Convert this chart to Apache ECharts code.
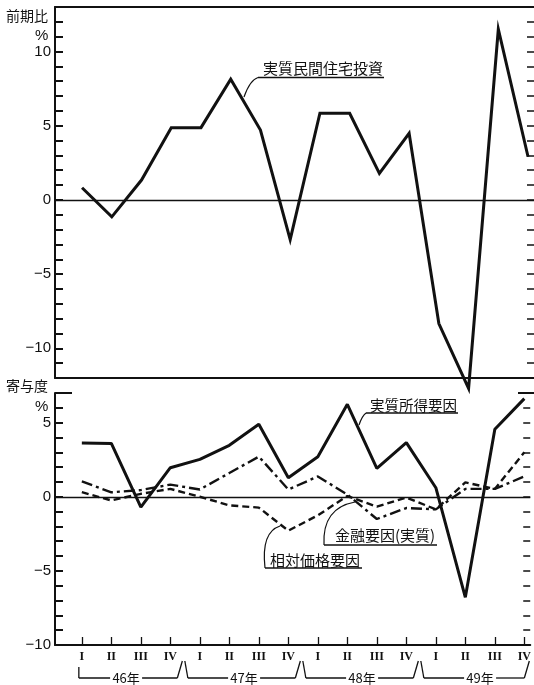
<!DOCTYPE html>
<html><head><meta charset="utf-8">
<script src="https://cdn.jsdelivr.net/npm/echarts@6/dist/echarts.min.js"></script>
<style>html,body{margin:0;padding:0;background:#fff}#c{width:534px;height:685px}</style>
</head><body><div id="c"></div>
<script>
// ---- data ----
const quarters = ['I','II','III','IV','I','II','III','IV','I','II','III','IV','I','II','III','IV'];
const years = ['46年','47年','48年','49年'];
const housingInvestment = [0.82,-1.14,1.34,4.87,4.87,8.13,4.71,-2.67,5.84,5.84,1.79,4.49,-8.33,-12.7,11.5,2.91];
const realIncomeFactor = [3.63,3.6,-0.7,1.96,2.52,3.47,4.89,1.28,2.7,6.24,1.91,3.65,0.61,-6.78,4.55,6.62];
const financeFactor = [1.04,0.3,0.45,0.82,0.49,1.6,2.71,0.49,1.37,0.15,-1.5,-0.76,-0.85,0.53,0.53,1.37];
const relativePriceFactor = [0.31,-0.25,0.2,0.53,0.0,-0.58,-0.73,-2.29,-1.25,0.05,-0.67,-0.05,-0.85,0.97,0.53,3.0];
const topLabelTicks = [10,5,0,-5,-10];
const bottomLabelTicks = [5,0,-5,-10];

const idx = quarters.map((_, i) => i);
const pairs = arr => arr.map((v, i) => [i, v]);
const fmtNum = v => (v < 0 ? '\u2212' + Math.abs(v) : String(v));

const chart = echarts.init(document.getElementById('c'), null, {renderer: 'canvas'});
const black = '#111';
const numFont = {fontFamily: 'Liberation Sans', fontSize: 15, color: black};

const xBase = {
  type: 'value', min: -0.91, max: 15.2,
  splitLine: {show: false},
  axisLine: {show: true, onZero: false, lineStyle: {color: black, width: 2}}
};

const option = {
  animation: false,
  backgroundColor: '#fff',
  grid: [
    {left: 55, right: 0, top: 7, height: 371},
    {left: 55, right: 0, top: 393, height: 252}
  ],
  xAxis: [
    Object.assign({}, xBase, {gridIndex: 0, position: 'bottom', axisTick: {show: false}, axisLabel: {show: false}}),
    Object.assign({}, xBase, {gridIndex: 1, position: 'bottom',
      axisTick: {show: true, inside: true, length: 8, customValues: idx, lineStyle: {color: black, width: 1.3}},
      axisLabel: {show: true, customValues: idx, margin: 6, formatter: v => quarters[Math.round(v)],
        fontFamily: 'Liberation Serif', fontWeight: 'bold', fontSize: 12, color: black}}),
    Object.assign({}, xBase, {gridIndex: 0, position: 'top', axisTick: {show: false}, axisLabel: {show: false}})
  ],
  yAxis: [
    {type: 'value', gridIndex: 0, min: -12, max: 13, interval: 1, position: 'left',
      splitLine: {show: false},
      axisLine: {show: true, onZero: false, lineStyle: {color: black, width: 2}},
      axisTick: {show: true, inside: true, length: 8, lineStyle: {color: black, width: 2}},
      axisLabel: Object.assign({margin: 4, formatter: v => topLabelTicks.includes(v) ? fmtNum(v) : ''}, numFont)},
    {type: 'value', gridIndex: 0, min: -12, max: 13, interval: 1, position: 'right',
      splitLine: {show: false}, axisLine: {show: false, onZero: false},
      axisTick: {show: true, inside: true, length: 7, lineStyle: {color: black, width: 1.5}},
      axisLabel: {show: false}},
    {type: 'value', gridIndex: 1, min: -10, max: 7, interval: 1, position: 'left',
      splitLine: {show: false},
      axisLine: {show: true, onZero: false, lineStyle: {color: black, width: 2}},
      axisTick: {show: true, inside: true, length: 8, lineStyle: {color: black, width: 2}},
      axisLabel: Object.assign({margin: 4, formatter: v => bottomLabelTicks.includes(v) ? fmtNum(v) : ''}, numFont)},
    {type: 'value', gridIndex: 1, min: -10, max: 7, interval: 1, position: 'right',
      splitLine: {show: false}, axisLine: {show: false, onZero: false},
      axisTick: {show: true, inside: true, length: 7, lineStyle: {color: black, width: 1.5}},
      axisLabel: {show: false}}
  ],
  series: [
    {name: '実質民間住宅投資', type: 'line', xAxisIndex: 0, yAxisIndex: 0, data: pairs(housingInvestment),
      symbol: 'none', clip: false, lineStyle: {color: black, width: 3, join: 'miter'},
      markLine: {silent: true, symbol: 'none', label: {show: false},
        lineStyle: {color: black, width: 1.3, type: 'solid'}, data: [{yAxis: 0}]}},
    {name: '実質所得要因', type: 'line', xAxisIndex: 1, yAxisIndex: 2, data: pairs(realIncomeFactor),
      symbol: 'none', lineStyle: {color: black, width: 3},
      markLine: {silent: true, symbol: 'none', label: {show: false},
        lineStyle: {color: black, width: 1.3, type: 'solid'}, data: [{yAxis: 0}]}},
    {name: '金融要因(実質)', type: 'line', xAxisIndex: 1, yAxisIndex: 2, data: pairs(financeFactor),
      symbol: 'none', lineStyle: {color: black, width: 2.4, type: [11, 4, 3, 4]}},
    {name: '相対価格要因', type: 'line', xAxisIndex: 1, yAxisIndex: 2, data: pairs(relativePriceFactor),
      symbol: 'none', lineStyle: {color: black, width: 2.4, type: [7, 4]}}
  ]
};
chart.setOption(option);

// ---- annotations ----
const jp = 'Noto Sans CJK JP';
function txt(x, y, s, size, align) {
  return {type: 'text', x: x, y: y, style: {text: s, font: size + 'px "' + jp + '"', fill: black,
    textAlign: align || 'left', textVerticalAlign: 'middle'}};
}
function line(x1, y1, x2, y2, w) {
  return {type: 'line', shape: {x1, y1, x2, y2}, style: {stroke: black, lineWidth: w || 1.3}};
}
function curve(x1, y1, cx, cy, x2, y2) {
  return {type: 'bezierCurve', shape: {x1, y1, x2, y2, cpx1: cx, cpy1: cy}, style: {stroke: black, lineWidth: 1.2, fill: null}};
}
const g = [];
g.push(txt(6, 16, '前期比', 14));
g.push({type: 'text', x: 35, y: 36, style: {text: '%', font: '15px "Liberation Sans"', fill: black, textVerticalAlign: 'middle'}});
g.push(txt(6, 386, '寄与度', 14));
g.push({type: 'text', x: 35, y: 407, style: {text: '%', font: '15px "Liberation Sans"', fill: black, textVerticalAlign: 'middle'}});

// series labels with underline and leaders
g.push(txt(263, 68, '実質民間住宅投資', 15));
g.push(line(258, 77.5, 384, 77.5));
g.push(curve(258, 77.5, 250, 80, 244, 97));

g.push(txt(370, 405, '実質所得要因', 14.5));
g.push(line(366, 413, 458, 413));
g.push(curve(366, 413, 362, 416, 359, 425));

g.push(txt(335, 535, '金融要因(実質)', 15));
g.push(line(324, 545, 437, 545));
g.push(curve(324, 545, 322, 508, 355, 502));

g.push(txt(270, 560, '相対価格要因', 15));
g.push(line(265, 568, 362, 568));
g.push(curve(265, 568, 261, 532, 280, 526));

// top-of-lower-panel long ticks
g.push(line(55, 393, 72, 393, 2));
g.push(line(518, 393, 534, 393, 2));

// year brackets under the quarter labels
const px = i => chart.convertToPixel({xAxisIndex: 1}, i);
const yTop = 661, yBot = 678;
years.forEach((y, k) => {
  const first = px(4 * k), last = px(4 * k + 3);
  const mid = (first + last) / 2;
  let lx, rx;
  if (k === 0) { lx = first - 3; g.push(line(lx, 667, lx, yBot)); }
  else { lx = first - 12; g.push(line(first - 15, yTop, lx, yBot)); }
  if (k === years.length - 1) { rx = last; g.push(line(rx, yBot, last + 5, yTop)); }
  else { rx = last + 7; g.push(line(rx, yBot, last + 12, yTop)); }
  g.push(line(lx, yBot, mid - 16, yBot));
  g.push(line(mid + 16, yBot, rx, yBot));
  g.push(txt(mid, yBot, y, 13, 'center'));
});
chart.setOption({graphic: g});
</script>
</body></html>
